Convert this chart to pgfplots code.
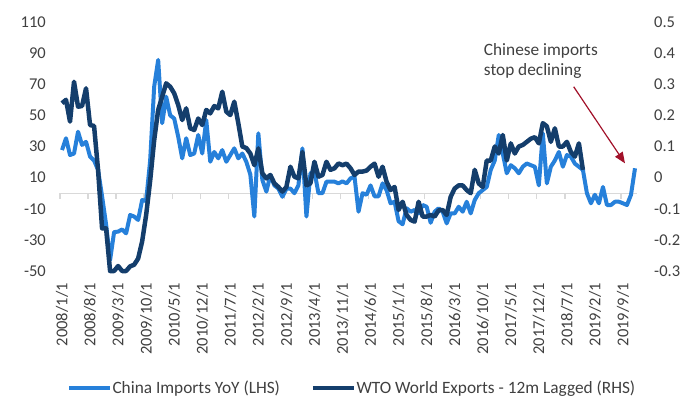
\documentclass[border=0pt]{standalone}
\usepackage{pgfplots}
\pgfplotsset{compat=1.18}
\usepackage{pgfplotstable}
\usepackage{fontspec}
\setmainfont{Carlito}
\usetikzlibrary{arrows.meta}
\definecolor{lightb}{RGB}{38,128,218}
\definecolor{darkb}{RGB}{20,62,108}
\definecolor{txt}{RGB}{64,64,64}
\definecolor{arr}{RGB}{162,18,42}
\definecolor{axgray}{RGB}{217,217,217}

\pgfplotstableread{
m v
0 27.7
1 35.3
2 24.5
3 25.5
4 39.5
5 31
6 33
7 23.5
8 21
9 15
10 -2
11 -20
12 -43
13 -25
14 -24.7
15 -23.3
16 -25.8
17 -14
18 -15
19 -17.2
20 -4.4
21 -5
22 21
23 68.4
24 85.6
25 45
26 62
27 50
28 48
29 36.3
30 22.4
31 35.3
32 24.5
33 25.5
34 37.4
35 25.5
36 47
37 20.2
38 26.5
39 22.4
40 27.7
41 20.2
42 24.5
43 28.8
44 22.4
45 25.5
46 20.2
47 12
48 -15
49 38.5
50 8.5
51 1
52 11.7
53 5
54 3
55 -2.3
56 2.8
57 3
58 0
59 5
60 28.8
61 -15
62 12.8
63 13.9
64 0
65 0
66 7.4
67 7.4
68 7.4
69 6.3
70 7.6
71 6.3
72 9.5
73 10.6
74 -11.9
75 0
76 -1
77 5
78 -2
79 -2
80 6.3
81 2
82 -6.5
83 -5.5
84 -18
85 -20
86 -9.7
87 -11.9
88 -10.8
89 -13
90 -7.6
91 -8.7
92 -19
93 -11.9
94 -9.7
95 -11.9
96 -19.4
97 -13
98 -13
99 -8.7
100 -11.9
101 -5.5
102 -13
103 -4.4
104 0
105 2
106 4
107 15
108 21
109 37.4
110 25.5
111 12.8
112 18
113 16
114 12.8
115 17
116 19.1
117 18
118 17
119 5
120 38.5
121 6.3
122 17
123 21
124 26.5
125 17
126 24.5
127 23.5
128 19
129 17
130 15
131 0
132 -6.5
133 -1
134 -6.5
135 4
136 -7.6
137 -7.6
138 -5.5
139 -5.5
140 -6.5
141 -7.6
142 -1
143 16
}\china

\pgfplotstableread{
m v
0 0.239
1 0.250
2 0.180
3 0.308
4 0.228
5 0.230
6 0.287
7 0.169
8 0.166
9 0.025
10 -0.163
11 -0.163
12 -0.300
13 -0.300
14 -0.284
15 -0.300
16 -0.300
17 -0.285
18 -0.280
19 -0.260
20 -0.205
21 -0.120
22 -0.010
23 0.120
24 0.2175
25 0.260
26 0.303
27 0.292
28 0.271
29 0.2335
30 0.185
31 0.2225
32 0.1585
33 0.153
34 0.190
35 0.169
36 0.2175
37 0.2065
38 0.230
39 0.2225
40 0.276
41 0.212
42 0.201
43 0.244
44 0.175
45 0.100
46 0.095
47 0.0775
48 0.040
49 0.094
50 0.014
51 -0.0025
52 0.0085
53 -0.0185
54 -0.030
55 -0.045
56 -0.030
57 0.035
58 0.003
59 -0.0025
60 0.0825
61 -0.025
62 -0.0185
63 0.051
64 0.003
65 0.0085
66 0.051
67 0.025
68 0.030
69 0.0455
70 0.040
71 0.045
72 0.030
73 0.0085
74 0.0195
75 0.0195
76 0.0225
77 0.035
78 0.045
79 0.003
80 0.035
81 -0.013
82 -0.040
83 -0.030
84 -0.104
85 -0.0775
86 -0.120
87 -0.136
88 -0.1415
89 -0.0775
90 -0.125
91 -0.125
92 -0.120
93 -0.125
94 -0.105
95 -0.104
96 -0.120
97 -0.0615
98 -0.035
99 -0.025
100 -0.025
101 -0.040
102 -0.050
103 0.025
104 -0.0185
105 -0.030
106 0.055
107 0.055
108 0.100
109 0.0775
110 0.137
111 0.055
112 0.110
113 0.0775
114 0.100
115 0.105
116 0.115
117 0.125
118 0.130
119 0.110
120 0.175
121 0.165
122 0.115
123 0.1585
124 0.100
125 0.100
126 0.115
127 0.0825
128 0.0675
129 0.110
130 0.025
}\wto

\begin{document}
\begin{tikzpicture}[font=\fontsize{16.5bp}{19bp}\selectfont]
\path[use as bounding box] (-60bp,-137bp) rectangle (638bp,271bp);
\begin{axis}[
  scale only axis, width=577bp, height=249bp,
  xmin=-0.5, xmax=143.5, ymin=-50, ymax=110,
  axis x line*=bottom, axis y line*=left, axis line style={draw=none},
  major tick length=0pt,
  xtick={0,7,...,140},
  xticklabels={2008/1/1,2008/8/1,2009/3/1,2009/10/1,2010/5/1,2010/12/1,2011/7/1,2012/2/1,2012/9/1,2013/4/1,2013/11/1,2014/6/1,2015/1/1,2015/8/1,2016/3/1,2016/10/1,2017/5/1,2017/12/1,2018/7/1,2019/2/1,2019/9/1},
  xticklabel style={rotate=90, anchor=east, inner sep=0pt, text=txt, font=\fontsize{16.5bp}{19bp}\selectfont},
  xticklabel shift=12bp,
  ytick={-50,-30,-10,10,30,50,70,90,110},
  yticklabels={-50,-30,-10,10,30,50,70,90,110},
  yticklabel style={anchor=east, inner sep=0pt, text=txt, font=\fontsize{16.5bp}{19bp}\selectfont},
  yticklabel shift=14bp,
  clip=false,
]
\draw[axgray, line width=1.3bp] (axis cs:-0.5,0) -- (axis cs:143.5,0);
\foreach \t in {-0.5,6.5,13.5,20.5,27.5,34.5,41.5,48.5,55.5,62.5,69.5,76.5,83.5,90.5,97.5,104.5,111.5,118.5,125.5,132.5,139.5}{
  \edef\temp{\noexpand\draw[axgray,line width=1.3bp] (axis cs:\t,0) -- (axis cs:\t,-3.9);}
  \temp
}
\addplot[lightb, line width=4bp, line join=round] table[x=m,y=v]{\china};
\end{axis}
\begin{axis}[
  scale only axis, width=577bp, height=249bp,
  xmin=-0.5, xmax=143.5, ymin=-0.3, ymax=0.5,
  axis x line=none, axis y line*=right, axis line style={draw=none},
  major tick length=0pt,
  ytick={-0.3,-0.2,-0.1,0,0.1,0.2,0.3,0.4,0.5},
  yticklabels={-0.3,-0.2,-0.1,0,0.1,0.2,0.3,0.4,0.5},
  yticklabel style={anchor=west, inner sep=0pt, text=txt, font=\fontsize{16.5bp}{19bp}\selectfont},
  yticklabel shift=17bp,
  clip=false,
  legend style={at={(0.505,-0.47)}, anchor=center, draw=none, fill=none,
    font=\fontsize{17.3bp}{20bp}\selectfont, text=txt,
    nodes={inner sep=0.5bp},
    /tikz/every even column/.append style={column sep=30bp}},
  legend columns=2,
  legend image code/.code={\draw[#1] (0bp,0bp) -- (41bp,0bp);},
]
\addlegendimage{lightb, line width=4bp}
\addlegendentry{China Imports YoY (LHS)}
\addplot[darkb, line width=4.5bp, line join=round] table[x=m,y=v]{\wto};
\addlegendentry{WTO World Exports - 12m Lagged (RHS)}
\node[anchor=north west, inner sep=0pt, align=left, text=txt, font=\fontsize{17.3bp}{20bp}\selectfont] at (axis cs:105.25,0.432) {Chinese imports\\stop declining};
\draw[arr, line width=1.2bp, -{Triangle[length=11bp,width=9bp]}] (axis cs:127.7,0.292) -- (axis cs:140.5,0.046);
\end{axis}
\end{tikzpicture}
\end{document}
